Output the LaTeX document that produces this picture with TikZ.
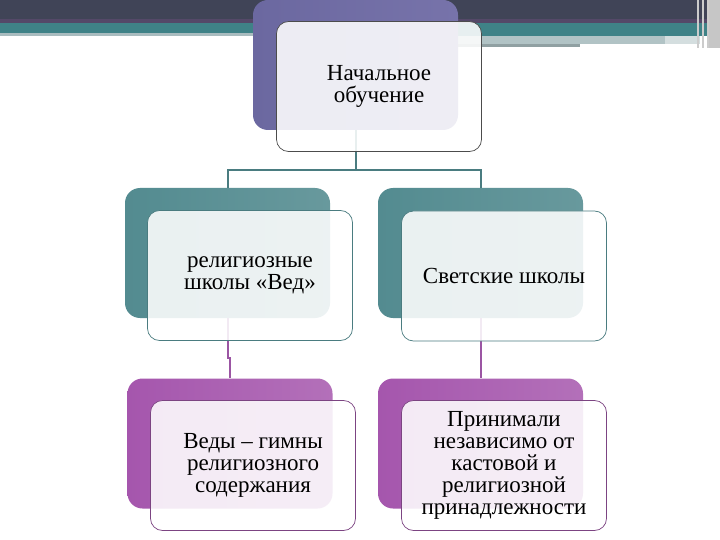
\documentclass[tikz,border=0pt]{standalone}
\usepackage{fontspec}
\setmainfont{Liberation Serif}
\usetikzlibrary{positioning}
\definecolor{mBarDark}{HTML}{404457}
\definecolor{mBarTeal}{HTML}{3F8287}
\definecolor{mBarGrey}{HTML}{A9BCBF}
\definecolor{mViolet}{HTML}{6B68A0}
\definecolor{mVioletLight}{HTML}{7773AA}
\definecolor{mTeal}{HTML}{538B90}
\definecolor{mTealLight}{HTML}{68999D}
\definecolor{mPlum}{HTML}{A556AD}
\definecolor{mPlumLight}{HTML}{B370B9}
\definecolor{mTealLine}{HTML}{4A7C80}
\definecolor{mPlumLine}{HTML}{9B55A3}

\begin{document}
\begin{tikzpicture}[x=1pt, y=-1pt,
    backbox/.style={rectangle, rounded corners=15pt, minimum width=205pt, minimum height=130pt, inner sep=0pt},
    frontbox/.style={rectangle, rounded corners=12pt, minimum width=205pt, minimum height=130pt, inner sep=0pt,
      fill=white, fill opacity=0.88, text opacity=1, line width=0.7pt, align=center,
      font=\fontsize{23}{22}\selectfont},
    link/.style={line width=2pt}]
    \useasboundingbox (0,0) rectangle (720,540);
    \fill[white] (0,0) rectangle (720,540);
    % top bar
    \fill[mBarDark] (0,0) rectangle (720,22);
    \fill[mBarDark!80!mPlum] (0,19) rectangle (720,23);
    \fill[mBarTeal] (0,23) rectangle (720,33);
    \fill[mBarTeal] (458,33) rectangle (710,36);
    \fill[mBarGrey] (0,33) rectangle (458,36);
    \fill[mBarGrey!90!white] (458,36) rectangle (665,44);
    \fill[mBarGrey!50!white] (665,36) rectangle (700,44);
    \fill[mBarGrey!85!black] (458,44) rectangle (580,47);
    \fill[gray!45!white] (709,0) rectangle (720,48);
    \foreach \xv in {698,703,708}
      \draw[gray!40!white, line width=1.2pt] (\xv,0) -- (\xv,48);

    \node[backbox, left color=mViolet, right color=mVioletLight] (topBack) at (355.5,65) {};
    \node[backbox, left color=mTeal, right color=mTealLight] (leftBack) at (227.5,253) {};
    \node[backbox, left color=mTeal, right color=mTealLight] (rightBack) at (480.5,253) {};
    \node[backbox, left color=mPlum, right color=mPlumLight] (botLeftBack) at (230,443.5) {};
    \node[backbox, left color=mPlum, right color=mPlumLight] (botRightBack) at (480.5,443.5) {};

    \coordinate (split) at (355.5,170);
    \draw[link, mTealLine] (topBack.south) -- (split);
    \draw[link, mTealLine] (leftBack.north) |- (split) -| (rightBack.north);
    \draw[link, mPlumLine] (leftBack.south) -- ++(0,40) -| (botLeftBack.north);
    \draw[link, mPlumLine] (rightBack.south) -- (botRightBack.north);

    \node[frontbox, draw=black!70] (topFront) at (379,86.5) {Начальное\\обучение};
    \node[frontbox, draw=mTealLine] (leftFront) at (250,275.5) {религиозные\\школы «Вед»};
    \node[frontbox, draw=mTealLine] (rightFront) at (504,276) {Светские школы};
    \node[frontbox, draw=mPlumLine!80!black] (botLeftFront) at (253,465.5) {Веды – гимны\\религиозного\\содержания};
    \node[frontbox, draw=mPlumLine!80!black] (botRightFront) at (504,465.5) {Принимали\\независимо от\\кастовой и\\религиозной\\принадлежности};
  \end{tikzpicture}
\end{document}
